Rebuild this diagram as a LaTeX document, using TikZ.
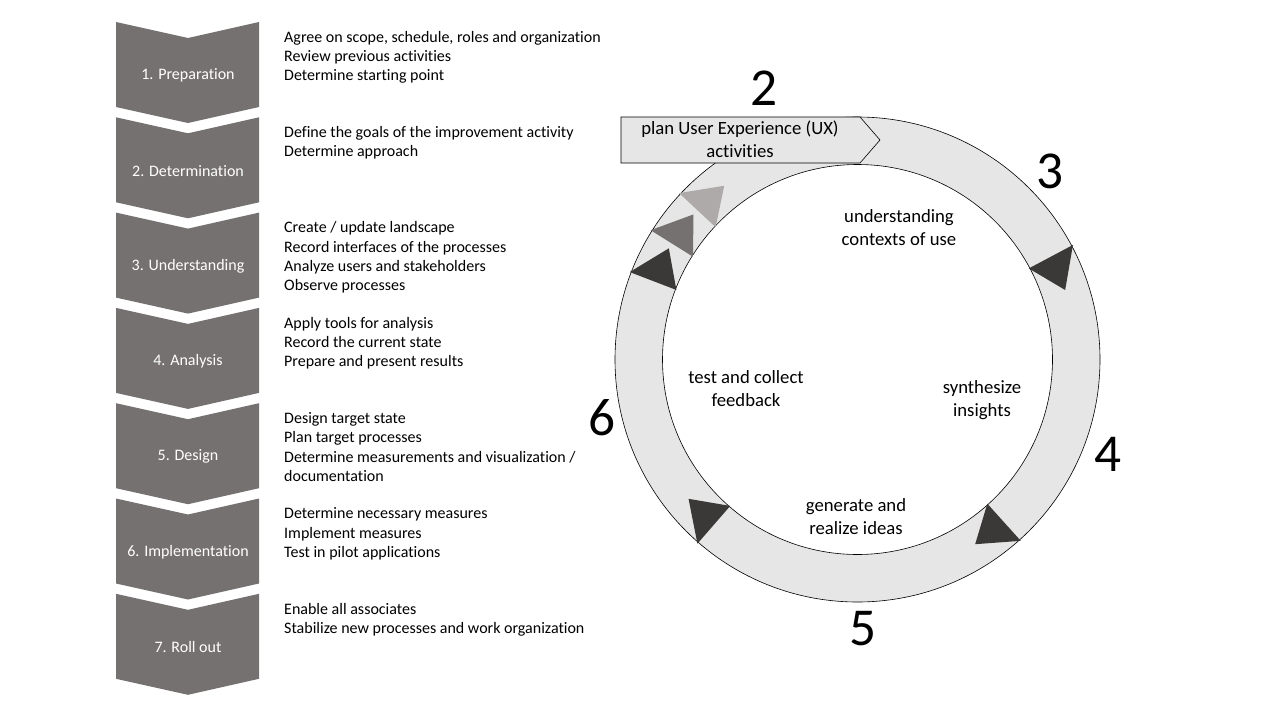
\documentclass[tikz,border=0pt]{standalone}
\usepackage{fontspec}
\setmainfont{Carlito}[Ligatures={NoCommon,NoDiscretionary,NoContextual}]
\usepackage{tikz}
\usetikzlibrary{calc}
\definecolor{chevgray}{HTML}{767171}
\definecolor{ringgray}{HTML}{E7E6E6}
\definecolor{tridark}{HTML}{3B3838}
\definecolor{trimid}{HTML}{767171}
\definecolor{trilight}{HTML}{AEAAAA}

\begin{document}
\begin{tikzpicture}[x=1pt,y=-1pt,
  steplabel/.style={text=white,inner sep=0pt,font=\fontsize{16}{19}\selectfont},
  tasklist/.style={anchor=north west,inner sep=0pt,align=left,font=\fontsize{16}{19.3}\selectfont},
  ringtext/.style={inner sep=0pt,align=center,font=\fontsize{18.7}{23}\selectfont},
  bignum/.style={inner sep=0pt,font=\fontsize{53.3}{60}\selectfont}]
\useasboundingbox (0,0) rectangle (1280,720);

% Draw the chevrons on the left
\foreach \i in {0,...,6}{
  \fill[chevgray] (116,22+95.3*\i) -- ++(72,16) -- ++(71,-16) -- ++(0,85) -- ++(-71,16) -- ++(-72,-16) -- cycle;
}

% Step labels inside the chevrons
\node[steplabel](s1) at (188,75.5){1. Preparation};
\node[steplabel,below of=s1,node distance=95.3pt](s2){2. Determination};
\node[steplabel,below of=s2,node distance=95.3pt](s3){3. Understanding};
\node[steplabel,below of=s3,node distance=95.3pt](s4){4. Analysis};
\node[steplabel,below of=s4,node distance=95.3pt](s5){5. Design};
\node[steplabel,below of=s5,node distance=95.3pt](s6){6. Implementation};
\node[steplabel,below of=s6,node distance=95.3pt](s7){7. Roll out};

% Task lists next to the chevrons
\node[tasklist](t1) at ($(s1)+(96,-44.5)$){Agree on scope, schedule, roles and organization\\Review previous activities\\Determine starting point};
\node[tasklist](t2) at ($(s2)+(96,-44.5)$){Define the goals of the improvement activity\\Determine approach};
\node[tasklist](t3) at ($(s3)+(96,-44.5)$){Create / update landscape\\Record interfaces of the processes\\Analyze users and stakeholders\\Observe processes};
\node[tasklist](t4) at ($(s4)+(96,-44.5)$){Apply tools for analysis\\Record the current state\\Prepare and present results};
\node[tasklist](t5) at ($(s5)+(96,-44.5)$){Design target state\\Plan target processes\\Determine measurements and visualization /\\documentation};
\node[tasklist](t6) at ($(s6)+(96,-44.5)$){Determine necessary measures\\Implement measures\\Test in pilot applications};
\node[tasklist](t7) at ($(s7)+(96,-44.5)$){Enable all associates\\Stabilize new processes and work organization};

% The cycle ring
\coordinate (c) at (857.5,359.5);
\filldraw[fill=ringgray,draw=black,line width=0.6pt,even odd rule] (c) circle (242.5pt) (c) circle (195pt);

% Arrow heads on the ring
\foreach \a/\col in {201/tridark,212/trimid,223/trilight,332/tridark,48/tridark,131/tridark}{
  \fill[\col] ($(c)+(\a:194)$) -- ($(c)+(\a:244)$) -- ($(c)+(\a+9.5:219)$) -- cycle;
}

% Start box
\filldraw[fill=ringgray,draw=black,line width=0.6pt] (621,117) -- (860,117) -- (880,140) -- (860,163) -- (621,163) -- cycle;
\node[ringtext](plan) at (740,139){plan User Experience (UX)\\activities};

% Texts inside the ring
\node[ringtext](ctx) at (899,228){understanding\\contexts of use};
\node[ringtext](syn) at (982,400){synthesize\\insights};
\node[ringtext](gen) at (856,517){generate and\\realize ideas};
\node[ringtext](test) at (746,389){test and collect\\feedback};

% Phase numbers
\node[bignum](n2) at (764,88){2};
\node[bignum](n3) at (1050,171){3};
\node[bignum](n4) at (1108,454){4};
\node[bignum](n5) at (863,629){5};
\node[bignum](n6) at (602,418){6};
\end{tikzpicture}
\end{document}
